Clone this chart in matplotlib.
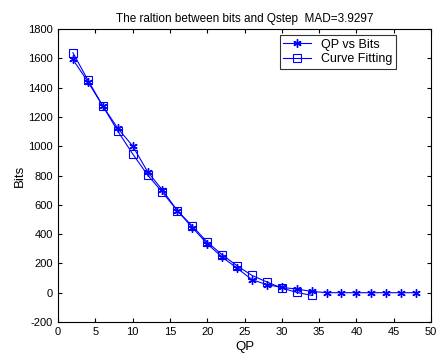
import matplotlib
matplotlib.use("Agg")
import matplotlib.pyplot as plt

qp_bits = [2, 4, 6, 8, 10, 12, 14, 16, 18, 20, 22, 24, 26, 28, 30, 32, 34, 36, 38, 40, 42, 44, 46, 48]
bits = [1592, 1440, 1275, 1123, 1002, 827, 700, 560, 445, 334, 243, 168, 89, 55, 36, 25, 9, 0, 0, 0, 0, 0, 0, 0]
qp_fit = [2, 4, 6, 8, 10, 12, 14, 16, 18, 20, 22, 24, 26, 28, 30, 32, 34]
fit = [1638, 1452, 1275, 1104, 948, 804, 685, 560, 455, 346, 259, 184, 118, 73, 32, 2, -18]

plt.rcParams['font.family'] = ['Liberation Sans', 'DejaVu Sans']
plt.rcParams['axes.unicode_minus'] = False
fig = plt.figure(figsize=(4.36, 3.56), dpi=100)
ax = fig.add_axes([58/436, 34/356, 373/436, 293/356])
ax.plot(qp_bits, bits, color='blue', marker=(6, 2, 0), markersize=6, markeredgewidth=1.0,
        linewidth=0.8, label='QP vs Bits')
ax.plot(qp_fit, fit, color='blue', marker='s', markersize=6, markerfacecolor='none',
        markeredgewidth=0.8, linewidth=0.8, label='Curve Fitting')
ax.set_xlim(0, 50)
ax.set_ylim(-200, 1800)
ax.set_xticks(range(0, 51, 5))
ax.set_yticks(range(-200, 1801, 200))
ax.tick_params(direction='in', top=True, right=True, labelsize=8, length=3)
ax.set_xlabel('QP', fontsize=9.5, labelpad=3)
ax.set_ylabel('Bits', fontsize=9.5, labelpad=2)
ax.set_title('The raltion between bits and Qstep  MAD=3.9297', fontsize=8.5, pad=5)
leg = ax.legend(loc='upper right', bbox_to_anchor=(0.906, 0.98), borderaxespad=0,
                fancybox=False, edgecolor='black',
                fontsize=9, handlelength=2.2, borderpad=0.3, labelspacing=0.2)
leg.get_frame().set_linewidth(0.8)
fig.savefig('out.png', dpi=100)
